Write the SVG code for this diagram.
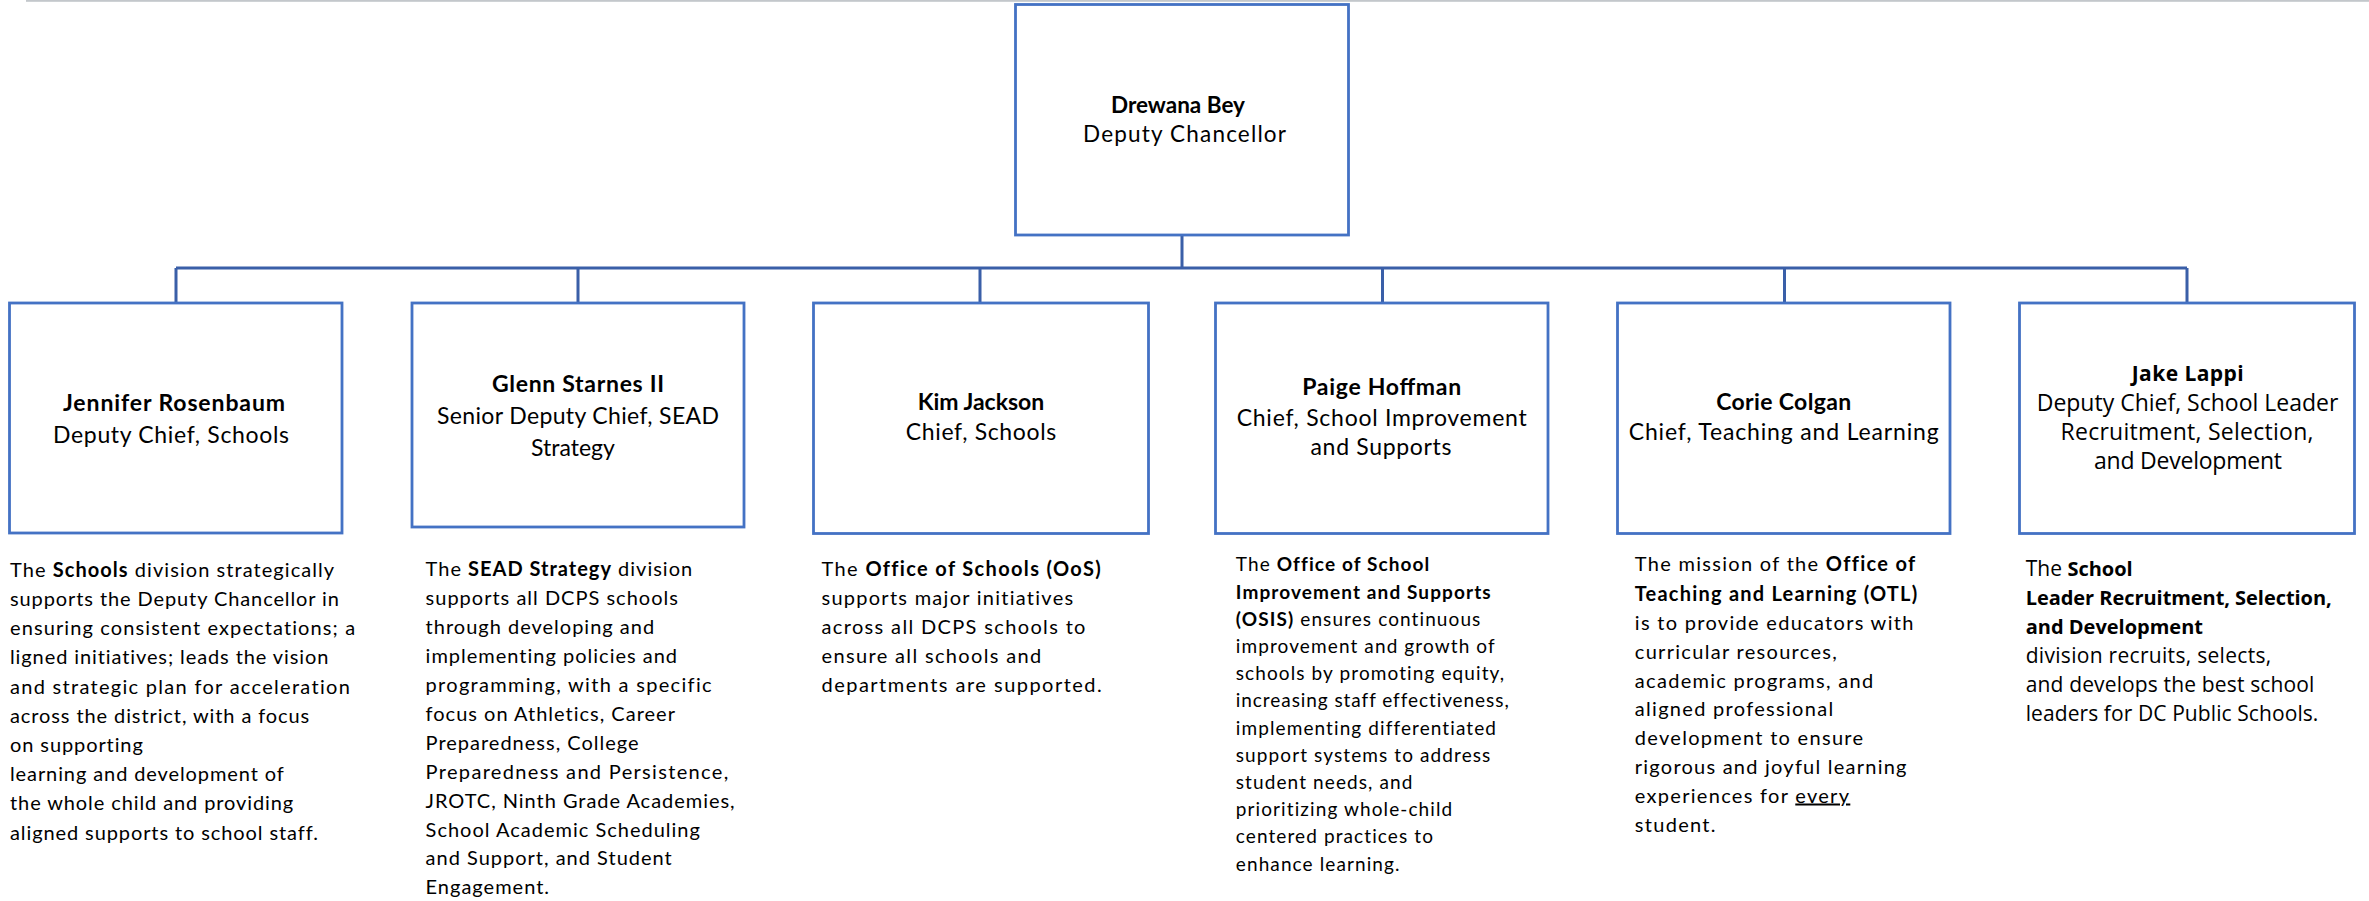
<svg xmlns="http://www.w3.org/2000/svg" width="2369" height="901" viewBox="0 0 2369 901">
<style>
.box{fill:#ffffff;stroke:#4472C4;stroke-width:2.8}
.con{fill:none;stroke:#3A5FA8;stroke-width:3}
.t{font-family:Lato,"Liberation Sans",sans-serif;fill:#000000}
.nm{font-size:23px;font-weight:bold;text-anchor:middle}
.ti{font-size:23px;text-anchor:middle}
.d{font-size:20px}
.d1{letter-spacing:0.9px}
.d2{letter-spacing:1px}
.d3{letter-spacing:1.35px}
.d4{font-size:19px;letter-spacing:1.1px}
.d5{letter-spacing:1.3px}
.o{font-family:"Open Sans","Liberation Sans",sans-serif;fill:#000000}
.b{font-weight:bold}
</style>
<rect x="26" y="0" width="2343" height="1.8" fill="#C3C7CB"/>
<g id="connectors">
<path class="con" d="M1182 235V268M176 268H2187M176 268V303M578 268V303M980 268V303M1382.5 268V303M1784.5 268V303M2187 268V303"/>
</g>
<g id="n0">
<rect class="box" x="1015.5" y="4.5" width="333" height="230.5"/>
<text class="t nm" x="1178" y="113" style="font-size:22.5px">Drewana Bey</text>
<text class="t ti" x="1184.5" y="142" style="font-size:22.5px" textLength="203">Deputy Chancellor</text>
</g>
<g id="n1">
<rect class="box" x="9.5" y="303" width="332.5" height="230"/>
<text class="t nm" x="174" y="410.7" textLength="222">Jennifer Rosenbaum</text>
<text class="t ti" x="171" y="442.7" textLength="236">Deputy Chief, Schools</text>
<g class="t d d1">
<text x="10" y="576.7" textLength="325"><tspan>The </tspan><tspan class="b">Schools</tspan><tspan> division strategically</tspan></text>
<text x="10" y="605.9">supports the Deputy Chancellor in</text>
<text x="10" y="635.1" textLength="346">ensuring consistent expectations; a</text>
<text x="10" y="664.3">ligned initiatives; leads the vision</text>
<text x="10" y="693.5" textLength="340.7">and strategic plan for  acceleration</text>
<text x="10" y="722.7">across the district, with a focus</text>
<text x="10" y="751.9">on supporting</text>
<text x="10" y="781.1">learning and development of</text>
<text x="10" y="810.3">the whole child and providing</text>
<text x="10" y="839.5">aligned supports to school staff.</text>
</g>
</g>
<g id="n2">
<rect class="box" x="412" y="303" width="332" height="224"/>
<text class="t nm" x="578" y="392" textLength="172">Glenn Starnes II</text>
<text class="t ti" x="578" y="424" textLength="282">Senior Deputy Chief, SEAD</text>
<text class="t ti" x="573" y="456">Strategy</text>
<g class="t d d2">
<text x="425.6" y="576.4"><tspan>The </tspan><tspan class="b">SEAD Strategy</tspan><tspan> division</tspan></text>
<text x="425.6" y="605.3">supports all DCPS schools</text>
<text x="425.6" y="634.2">through developing and</text>
<text x="425.6" y="663.1">implementing policies and</text>
<text x="425.6" y="692" textLength="287">programming, with a specific</text>
<text x="425.6" y="720.9">focus on Athletics, Career</text>
<text x="425.6" y="749.8">Preparedness, College</text>
<text x="425.6" y="778.7" textLength="303.6">Preparedness and Persistence,</text>
<text x="425.6" y="807.6" textLength="310">JROTC, Ninth Grade Academies,</text>
<text x="425.6" y="836.5">School Academic Scheduling</text>
<text x="425.6" y="865.4">and Support, and Student</text>
<text x="425.6" y="894.3">Engagement.</text>
</g>
</g>
<g id="n3">
<rect class="box" x="813.5" y="303" width="335" height="230.5"/>
<text class="t nm" x="981" y="409.6" textLength="126.5">Kim Jackson</text>
<text class="t ti" x="981" y="440" textLength="150.5">Chief, Schools</text>
<g class="t d d3">
<text x="821.5" y="576.4"><tspan>The </tspan><tspan class="b">Office of Schools (OoS)</tspan></text>
<text x="821.5" y="605.3" textLength="253">supports major initiatives</text>
<text x="821.5" y="634.2">across all DCPS schools to</text>
<text x="821.5" y="663.1">ensure all schools and</text>
<text x="821.5" y="692" textLength="281.6">departments are supported.</text>
</g>
</g>
<g id="n4">
<rect class="box" x="1215.5" y="303" width="332.5" height="230.5"/>
<text class="t nm" x="1381.7" y="395" textLength="159">Paige Hoffman</text>
<text class="t ti" x="1381.7" y="425.5" textLength="290">Chief, School Improvement</text>
<text class="t ti" x="1381" y="455" textLength="141">and Supports</text>
<g class="t d4">
<text x="1235.8" y="571.4"><tspan>The </tspan><tspan class="b">Office of School</tspan></text>
<text class="b" x="1235.8" y="598.6" textLength="256">Improvement and Supports</text>
<text x="1235.8" y="625.8"><tspan class="b">(OSIS)</tspan><tspan>  ensures continuous</tspan></text>
<text x="1235.8" y="653" textLength="260">improvement and growth of</text>
<text x="1235.8" y="680.2">schools by promoting equity,</text>
<text x="1235.8" y="707.4" textLength="274">increasing staff effectiveness,</text>
<text x="1235.8" y="734.6">implementing differentiated</text>
<text x="1235.8" y="761.8">support systems to address</text>
<text x="1235.8" y="789">student needs, and</text>
<text x="1235.8" y="816.2">prioritizing whole-child</text>
<text x="1235.8" y="843.4">centered practices to</text>
<text x="1235.8" y="870.6">enhance learning.</text>
</g>
</g>
<g id="n5">
<rect class="box" x="1617.5" y="303" width="332.5" height="230.5"/>
<text class="t nm" x="1783.7" y="410" textLength="135">Corie Colgan</text>
<text class="t ti" x="1783.7" y="440" textLength="310">Chief, Teaching and Learning</text>
<g class="t d d5">
<text x="1634.8" y="571.4"><tspan>The mission of the </tspan><tspan class="b">Office of</tspan></text>
<text class="b" x="1634.8" y="601.3" textLength="283.7">Teaching and Learning (OTL)</text>
<text x="1634.8" y="630">is to provide educators with</text>
<text x="1634.8" y="658.7">curricular resources,</text>
<text x="1634.8" y="687.5">academic programs, and</text>
<text x="1634.8" y="716.2">aligned professional</text>
<text x="1634.8" y="745">development to ensure</text>
<text x="1634.8" y="773.8" textLength="273">rigorous and joyful learning</text>
<text x="1634.8" y="802.5"><tspan>experiences for </tspan><tspan text-decoration="underline">every</tspan></text>
<text x="1634.8" y="831.5">student.</text>
</g>
</g>
<g id="n6">
<rect class="box" x="2019.5" y="303" width="335" height="230.5"/>
<text class="o" x="2187.7" y="381" font-size="21" font-weight="bold" text-anchor="middle" textLength="112">Jake Lappi</text>
<text class="o" x="2187.5" y="411" font-size="23" text-anchor="middle" textLength="301.6">Deputy Chief, School Leader</text>
<text class="o" x="2187" y="439.5" font-size="23" text-anchor="middle" textLength="253">Recruitment, Selection,</text>
<text class="o" x="2188" y="468.5" font-size="23" text-anchor="middle" textLength="188">and Development</text>
<text class="o" x="2025.7" y="575.7" font-size="21"><tspan>The </tspan><tspan font-weight="bold" font-size="20">School</tspan></text>
<text class="o" x="2025.7" y="604.7" font-size="20" font-weight="bold" textLength="306">Leader Recruitment, Selection,</text>
<text class="o" x="2025.7" y="633.7" font-size="20" font-weight="bold">and Development</text>
<text class="o" x="2025.7" y="662.7" font-size="21" letter-spacing="0.3">division recruits, selects,</text>
<text class="o" x="2025.7" y="691.7" font-size="21" textLength="288.7">and develops the best school</text>
<text class="o" x="2025.7" y="720.7" font-size="21" textLength="292.7">leaders for DC Public Schools.</text>
</g>
</svg>
